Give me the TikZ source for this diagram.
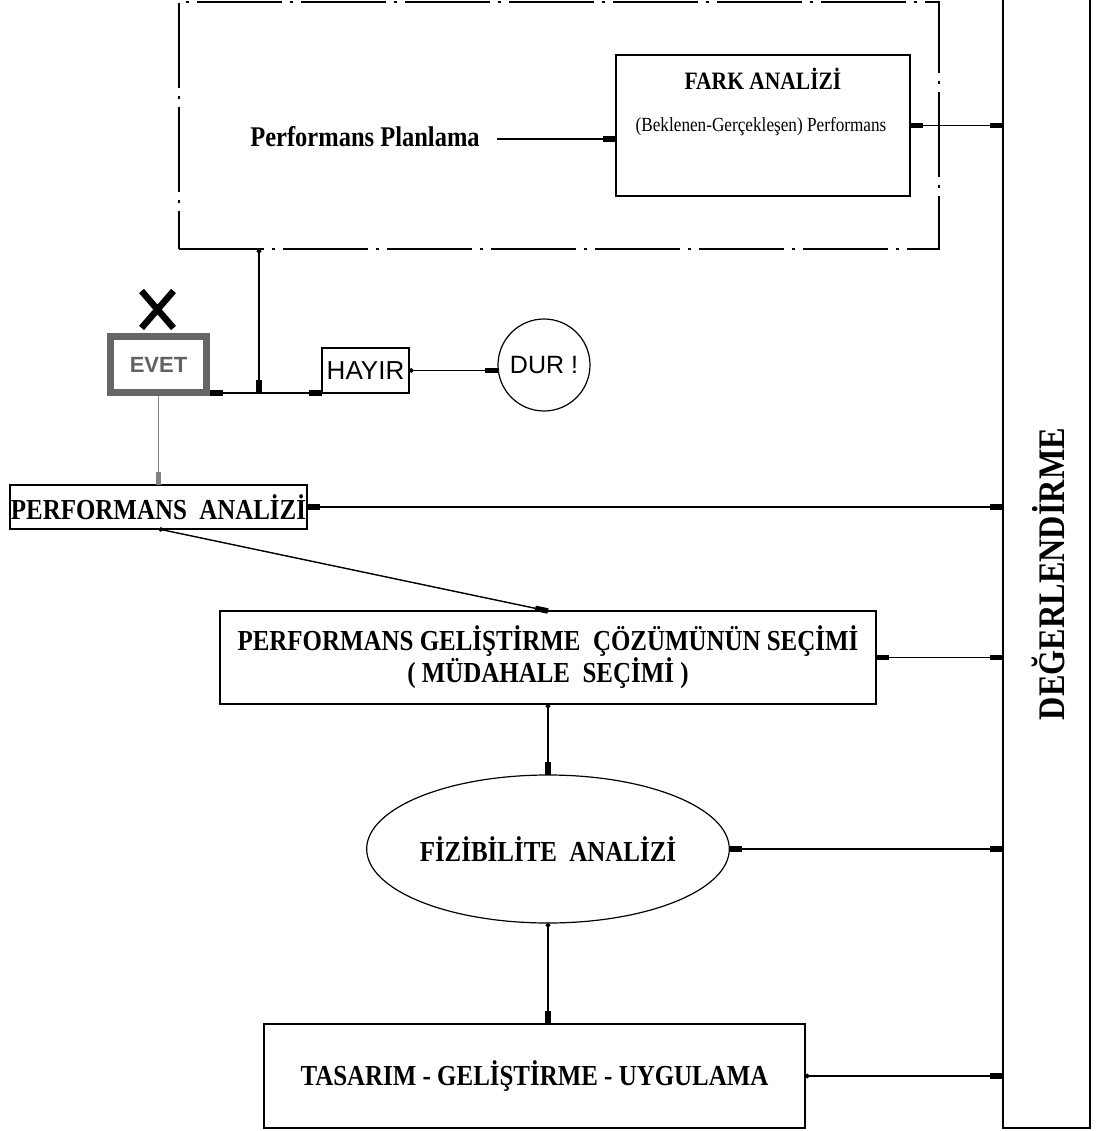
\documentclass[tikz,border=0pt]{standalone}
\usepackage{fontspec}
\setmainfont{Liberation Serif}
\newfontfamily\condserif[FakeStretch=0.86]{Liberation Serif}
\newfontfamily\cadsans{Liberation Sans}
\usetikzlibrary{arrows.meta,shapes.geometric}

\begin{document}
\begin{tikzpicture}[x=1pt,y=-1pt,
  frame/.style={draw, line width=1.4pt, inner sep=0pt, outer sep=0pt},
  tipr/.tip={Rectangle[length=13pt,width=5.5pt]},
  dotr/.tip={Circle[length=4.5pt]},
  conn/.style={line width=1.4pt, arrows={-tipr}},
  twoway/.style={line width=1.4pt, arrows={tipr-tipr}},
  dotconn/.style={line width=1.4pt, arrows={dotr-tipr}},
  heading/.style={font=\condserif\bfseries\fontsize{29}{29}\selectfont, align=center, inner sep=0pt},
]
% canvas
\fill[white] (0,0) rectangle (1096,1131);
\useasboundingbox (0,0) rectangle (1096,1131);

% planning area (dash-dot frame)
\node[frame, line width=1.2pt, dash pattern=on 85pt off 8pt on 3pt off 8pt,
      minimum width=760pt, minimum height=247pt] (plan) at (559,125.5) {};
\node[font=\condserif\bfseries\fontsize{28.5}{30}\selectfont, inner sep=0pt] (pp) at (365,137) {Performans Planlama};

% gap analysis box
\node[frame, minimum width=294pt, minimum height=141pt] (fark) at (763,125.5) {};
\node[font=\condserif\bfseries\fontsize{25}{27}\selectfont, inner sep=0pt] (farkt) at (763,79) {FARK ANALİZİ};
\node[font=\condserif\fontsize{20}{22}\selectfont, inner sep=0pt] (farks) at (761,127) {(Beklenen-Gerçekleşen) Performans};

% evaluation column
\node[frame, minimum width=87pt, minimum height=1133pt] (deg) at (1046.5,561.5) {};
\node[rotate=90, font=\condserif\bfseries\fontsize{37.5}{39}\selectfont, inner sep=0pt] (degt) at (1048,574) {DEĞERLENDİRME};

% decision: EVET / HAYIR
\node[draw=black!60, line width=7pt, minimum width=96pt, minimum height=56pt, inner sep=0pt,
      text=black!62, font=\cadsans\bfseries\fontsize{22}{24}\selectfont] (evet) at (158.5,364.5) {EVET};
\draw[line width=6.5pt] ([xshift=-17pt,yshift=42pt]evet.north) -- ([xshift=15pt,yshift=5pt]evet.north)
                        ([xshift=15pt,yshift=42pt]evet.north) -- ([xshift=-17pt,yshift=5pt]evet.north);
\node[frame, line width=1.2pt, minimum width=87pt, minimum height=45pt,
      font=\cadsans\fontsize{26}{28}\selectfont] (hayir) at (365.5,370.5) {HAYIR};
\node[draw, circle, line width=1.2pt, minimum size=92pt, inner sep=0pt, outer sep=0pt,
      font=\cadsans\fontsize{25}{27}\selectfont] (dur) at (544,365) {DUR !};
\coordinate (j) at (259,393);

% main process
\node[frame, minimum width=297pt, minimum height=44pt, heading] (pa) at (158.5,507) {PERFORMANS\ \ ANALİZİ};
\node[frame, minimum width=656pt, minimum height=93pt, heading] (pgcs) at (548,657.5)
      {PERFORMANS GELİŞTİRME\ \ ÇÖZÜMÜNÜN SEÇİMİ\\( MÜDAHALE\ \ SEÇİMİ )};
\node[draw, ellipse, line width=1.2pt, minimum width=336pt, minimum height=148pt, inner sep=0pt,
      outer sep=0pt, heading] (fiz) at (548,849) {FİZİBİLİTE\ \ ANALİZİ};
\node[frame, minimum width=541pt, minimum height=104pt, heading] (tas) at (534.5,1076)
      {TASARIM - GELİŞTİRME - UYGULAMA};

% connectors of the planning area
\draw[conn] ([xshift=17pt]pp.east |- 0,139) -- (fark.west |- 0,139);
\draw[twoway] (fark.east) -- (fark.east -| deg.west);
\draw[dotconn] (plan.south -| j) -- (j);
\draw[conn] (j) -- (j -| evet.east);
\draw[conn] (j) -- (hayir.south west);
\draw[dotconn] (hayir.east) -- (hayir.east -| dur.west);
\draw[conn, draw=black!50, line width=1.8pt] (evet.south) -- (pa.north);

% connectors of the main process
\draw[twoway] (pa.east) -- (pa.east -| deg.west);
\draw[dotconn] (pa.south) -- (pgcs.north);
\draw[twoway] (pgcs.east) -- (pgcs.east -| deg.west);
\draw[dotconn] (pgcs.south) -- (fiz.north);
\draw[twoway] (fiz.east) -- (fiz.east -| deg.west);
\draw[dotconn] (fiz.south) -- (fiz.south |- tas.north);
\draw[dotconn] (tas.east) -- (tas.east -| deg.west);
\end{tikzpicture}
\end{document}
